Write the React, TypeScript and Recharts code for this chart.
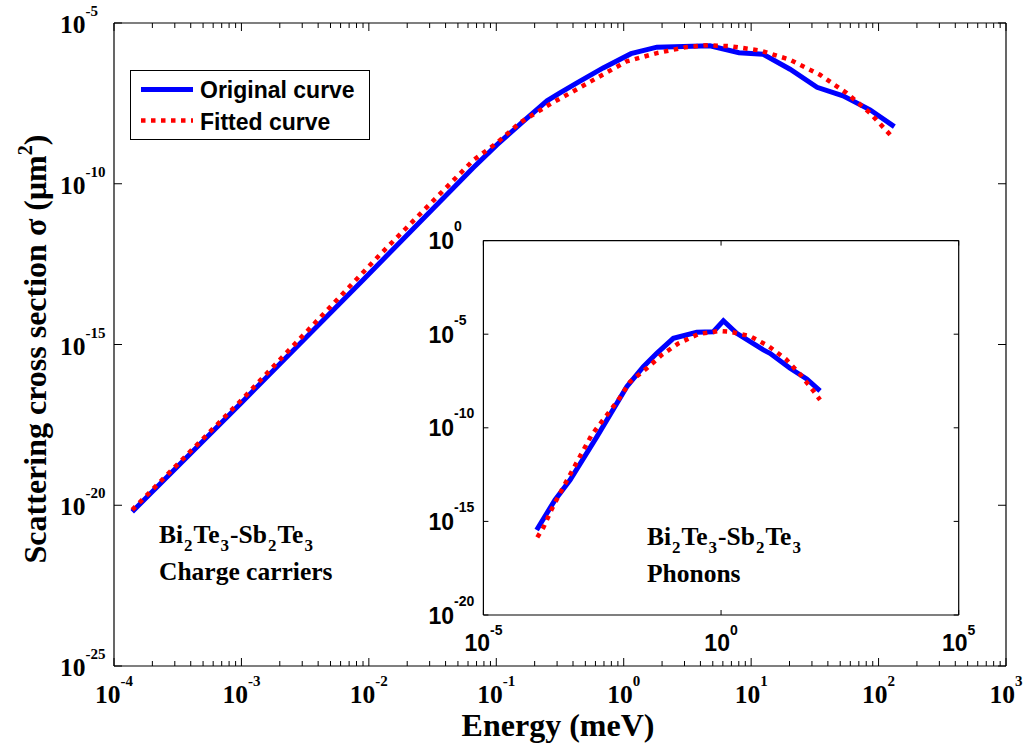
import React from 'react'
import { LineChart, Line, XAxis, YAxis } from 'recharts'

// main plot: charge carriers (energy in meV, sigma in um^2)
const carrierEnergyOrig = [1.39e-4, 1.0e-3, 9.0e-3, 6.56e-2, 0.101, 0.162, 0.25, 0.316, 0.43, 0.69, 1.14, 1.82, 4.75, 8.03, 12.4, 20.2, 32.9, 52.6, 85.7, 133]
const carrierSigmaOrig = [6.3e-21, 1.55e-17, 1.02e-13, 3.1e-10, 1.62e-9, 8.5e-9, 3.8e-8, 6.7e-8, 1.38e-7, 4.0e-7, 1.11e-6, 1.77e-6, 1.96e-6, 1.19e-6, 1.07e-6, 3.65e-7, 1.0e-7, 5.46e-8, 2.0e-8, 6.0e-9]
const carrierEnergyFit = [1.39e-4, 1.0e-3, 1.22e-2, 6.6e-2, 0.101, 0.153, 0.272, 0.379, 0.614, 1.055, 1.82, 3.12, 4.61, 6.82, 11.7, 20.2, 34.7, 56.2, 85.7, 127]
const carrierSigmaFit = [7.2e-21, 1.86e-17, 6.2e-13, 5.4e-10, 1.86e-9, 7.9e-9, 3.2e-8, 6.6e-8, 1.94e-7, 6.4e-7, 1.16e-6, 1.79e-6, 2.04e-6, 1.9e-6, 1.4e-6, 7.2e-7, 2.45e-7, 6.6e-8, 1.58e-8, 2.95e-9]

// inset: phonons
const phononEnergyOrig = [1.32e-4, 3.21e-4, 6.65e-4, 2.43e-3, 1.04e-2, 2.32e-2, 4.44e-2, 9.9e-2, 0.308, 0.689, 1.12, 2.14, 7.76, 10.7, 28.3, 63.5, 121]
const phononSigmaOrig = [3.5e-16, 1.41e-14, 1.62e-13, 3.3e-11, 1.58e-8, 1.82e-7, 9.5e-7, 6.0e-6, 1.26e-5, 1.35e-5, 5.2e-5, 1.12e-5, 1.45e-6, 9.5e-7, 1.51e-7, 4.1e-8, 9.5e-9]
const phononEnergyFit = [1.36e-4, 1.82e-4, 2.74e-4, 4.45e-4, 7.2e-4, 1.17e-3, 1.9e-3, 3.62e-3, 6.9e-3, 1.22e-2, 2.74e-2, 5.65e-2, 0.126, 0.333, 0.92, 1.55, 4.07, 9.9, 23.3, 47.5, 87.5, 121]
const phononSigmaFit = [1.41e-16, 4.6e-16, 4.5e-15, 4.8e-14, 4.5e-13, 4.4e-12, 4.2e-11, 3.6e-10, 3.1e-9, 2.9e-8, 1.51e-7, 7.8e-7, 3.2e-6, 1.02e-5, 1.48e-5, 1.35e-5, 7.9e-6, 2.34e-6, 4.6e-7, 6.6e-8, 9.5e-9, 3.1e-9]

// ticks
const mainXDecades = [1e-4, 1e-3, 1e-2, 1e-1, 1, 10, 100, 1000]
const minorSteps = [2, 3, 4, 5, 6, 7, 8, 9]
const mainXTicks = mainXDecades
  .concat(mainXDecades.slice(0, -1).flatMap(d => minorSteps.map(m => d * m)))
  .sort((a, b) => a - b)
const mainYTicks = [1e-25, 1e-20, 1e-15, 1e-10, 1e-5]
const insetXTicks = [1e-5, 1, 1e5]
const insetYTicks = [1e-20, 1e-15, 1e-10, 1e-5, 1]

const legendLabels = ['Original curve', 'Fitted curve']

const toRows = (xs: number[], ys: number[]) => xs.map((e, i) => ({ energy: e, sigma: ys[i] }))

const carrierOrig = toRows(carrierEnergyOrig, carrierSigmaOrig)
const carrierFit = toRows(carrierEnergyFit, carrierSigmaFit)
const phononOrig = toRows(phononEnergyOrig, phononSigmaOrig)
const phononFit = toRows(phononEnergyFit, phononSigmaFit)

const serif = '"Liberation Serif", "Times New Roman", serif'
const sans = '"Liberation Sans", Arial, sans-serif'
const BLUE = '#0000ff'
const RED = '#ff0000'
const DOTS = '4.5 5.5'

const isDecade = (v: number) => Math.abs(Math.log10(v) - Math.round(Math.log10(v))) < 1e-6
const expOf = (v: number) => Math.round(Math.log10(v))

// x ticks of the main axes, drawn inward, MATLAB style
const MainXTick = ({ x, y, payload, side }: any) => {
  const v = payload.value
  const major = isDecade(v)
  const len = major ? 8 : 5
  const dir = side === 'bottom' ? -1 : 1
  return (
    <g>
      <line x1={x} y1={y} x2={x} y2={y + dir * len} stroke="#000" strokeWidth={1} />
      {side === 'bottom' && major && (
        <text x={x} y={y + 36.5} textAnchor="middle" fontFamily={serif} fontWeight="bold" fontSize={25.5} fill="#000">
          <tspan>10</tspan>
          <tspan dy={-17} fontSize={15}>{expOf(v)}</tspan>
        </text>
      )}
    </g>
  )
}

const MainYTick = ({ x, y, payload, side }: any) => {
  const v = payload.value
  const dir = side === 'left' ? 1 : -1
  return (
    <g>
      <line x1={x} y1={y} x2={x + dir * 8} y2={y} stroke="#000" strokeWidth={1} />
      {side === 'left' && (
        <text x={x - 54} y={y + 10} textAnchor="start" fontFamily={serif} fontWeight="bold" fontSize={25.5} fill="#000">
          <tspan>10</tspan>
          <tspan dy={-17} fontSize={15}>{expOf(v)}</tspan>
        </text>
      )}
    </g>
  )
}

const InsetXTick = ({ x, y, payload, side }: any) => {
  const v = payload.value
  const dir = side === 'bottom' ? -1 : 1
  return (
    <g>
      <line x1={x} y1={y} x2={x} y2={y + dir * 5} stroke="#000" strokeWidth={1} />
      {side === 'bottom' && (
        <text x={x} y={y + 35.5} textAnchor="middle" fontFamily={sans} fontWeight="bold" fontSize={23} fill="#000">
          <tspan>10</tspan>
          <tspan dy={-16} fontSize={14}>{expOf(v)}</tspan>
        </text>
      )}
    </g>
  )
}

const InsetYTick = ({ x, y, payload, side }: any) => {
  const v = payload.value
  const dir = side === 'left' ? 1 : -1
  return (
    <g>
      <line x1={x} y1={y} x2={x + dir * 5} y2={y} stroke="#000" strokeWidth={1} />
      {side === 'left' && (
        <text x={x - 55} y={y + 8.5} textAnchor="start" fontFamily={sans} fontWeight="bold" fontSize={23} fill="#000">
          <tspan>10</tspan>
          <tspan dy={-18} fontSize={14}>{expOf(v)}</tspan>
        </text>
      )}
    </g>
  )
}

const Sub = ({ c }: { c: string }) => (
  <tspan dx={1} dy={8} fontSize={17}>{c}</tspan>
)

const Formula = ({ x, y }: { x: number; y: number }) => (
  <text x={x} y={y} fontFamily={serif} fontWeight="bold" fontSize={25.5} fill="#000">
    <tspan>Bi</tspan>
    <Sub c="2" />
    <tspan dx={1} dy={-8}>Te</tspan>
    <Sub c="3" />
    <tspan dx={1} dy={-8}>-Sb</tspan>
    <Sub c="2" />
    <tspan dx={1} dy={-8}>Te</tspan>
    <Sub c="3" />
  </text>
)

const axisStroke = { stroke: '#000', strokeWidth: 1.2 }

export default function App() {
  return (
    <div style={{ position: 'absolute', left: 0, top: 0, width: 1026, height: 747, background: '#fff' }}>
      <div style={{ position: 'absolute', left: 0, top: 0 }}>
        <LineChart width={1026} height={747} margin={{ top: 22, right: 19, bottom: 80, left: 0 }}>
          <XAxis
            dataKey="energy" type="number" scale="log" domain={[1e-4, 1e3]} allowDataOverflow
            ticks={mainXTicks} interval={0} height={1} tickSize={0} tickMargin={0}
            tickLine={false} axisLine={axisStroke}
            tick={(p: any) => <MainXTick {...p} side="bottom" />}
          />
          <XAxis
            xAxisId="top" orientation="top" dataKey="energy" type="number" scale="log" domain={[1e-4, 1e3]} allowDataOverflow
            ticks={mainXTicks} interval={0} height={1} tickSize={0} tickMargin={0}
            tickLine={false} axisLine={axisStroke}
            tick={(p: any) => <MainXTick {...p} side="top" />}
          />
          <YAxis
            dataKey="sigma" type="number" scale="log" domain={[1e-25, 1e-5]} allowDataOverflow
            ticks={mainYTicks} interval={0} width={114} tickSize={0} tickMargin={0}
            tickLine={false} axisLine={axisStroke}
            tick={(p: any) => <MainYTick {...p} side="left" />}
          />
          <YAxis
            yAxisId="right" orientation="right" type="number" scale="log" domain={[1e-25, 1e-5]} allowDataOverflow
            ticks={mainYTicks} interval={0} width={1} tickSize={0} tickMargin={0}
            tickLine={false} axisLine={axisStroke}
            tick={(p: any) => <MainYTick {...p} side="right" />}
          />
          <Line data={carrierOrig} dataKey="sigma" type="linear" stroke={BLUE} strokeWidth={5} dot={false} isAnimationActive={false} />
          <Line data={carrierFit} dataKey="sigma" type="linear" stroke={RED} strokeWidth={4.5} strokeDasharray={DOTS} dot={false} isAnimationActive={false} />
        </LineChart>
      </div>

      <div style={{ position: 'absolute', left: 420, top: 215 }}>
        <LineChart width={560} height={450} margin={{ top: 24.6, right: 20.3, bottom: 49, left: 0 }}>
          <XAxis
            dataKey="energy" type="number" scale="log" domain={[1e-5, 1e5]} allowDataOverflow
            ticks={insetXTicks} interval={0} height={1} tickSize={0} tickMargin={0}
            tickLine={false} axisLine={axisStroke}
            tick={(p: any) => <InsetXTick {...p} side="bottom" />}
          />
          <XAxis
            xAxisId="top" orientation="top" dataKey="energy" type="number" scale="log" domain={[1e-5, 1e5]} allowDataOverflow
            ticks={insetXTicks} interval={0} height={1} tickSize={0} tickMargin={0}
            tickLine={false} axisLine={axisStroke}
            tick={(p: any) => <InsetXTick {...p} side="top" />}
          />
          <YAxis
            dataKey="sigma" type="number" scale="log" domain={[1e-20, 1]} allowDataOverflow
            ticks={insetYTicks} interval={0} width={63.4} tickSize={0} tickMargin={0}
            tickLine={false} axisLine={axisStroke}
            tick={(p: any) => <InsetYTick {...p} side="left" />}
          />
          <YAxis
            yAxisId="right" orientation="right" type="number" scale="log" domain={[1e-20, 1]} allowDataOverflow
            ticks={insetYTicks} interval={0} width={1} tickSize={0} tickMargin={0}
            tickLine={false} axisLine={axisStroke}
            tick={(p: any) => <InsetYTick {...p} side="right" />}
          />
          <Line data={phononOrig} dataKey="sigma" type="linear" stroke={BLUE} strokeWidth={5} dot={false} isAnimationActive={false} />
          <Line data={phononFit} dataKey="sigma" type="linear" stroke={RED} strokeWidth={4.5} strokeDasharray={DOTS} dot={false} isAnimationActive={false} />
        </LineChart>
      </div>

      <svg width={1026} height={747} style={{ position: 'absolute', left: 0, top: 0, pointerEvents: 'none' }}>
        {/* legend */}
        <rect x={130.5} y={70.5} width={239} height={69} fill="#fff" stroke="#000" strokeWidth={1} />
        <line x1={141} y1={89.5} x2={193} y2={89.5} stroke={BLUE} strokeWidth={5} />
        <line x1={141} y1={120.5} x2={193} y2={120.5} stroke={RED} strokeWidth={4.5} strokeDasharray={DOTS} />
        <text x={200} y={98} fontFamily={sans} fontWeight="bold" fontSize={23} fill="#000">{legendLabels[0]}</text>
        <text x={200} y={130} fontFamily={sans} fontWeight="bold" fontSize={23} fill="#000">{legendLabels[1]}</text>

        {/* annotations */}
        <Formula x={159} y={543} />
        <text x={159} y={580} fontFamily={serif} fontWeight="bold" fontSize={25.5} fill="#000">Charge carriers</text>
        <Formula x={647} y={545} />
        <text x={647} y={582} fontFamily={serif} fontWeight="bold" fontSize={25.5} fill="#000">Phonons</text>

        {/* axis titles */}
        <text x={558} y={736} textAnchor="middle" fontFamily={serif} fontWeight="bold" fontSize={32} fill="#000">Energy (meV)</text>
        <text transform="translate(46,349) rotate(-90)" textAnchor="middle" fontFamily={serif} fontWeight="bold" fontSize={32} fill="#000">
          <tspan>Scattering cross section σ (μm</tspan>
          <tspan dy={-14} fontSize={20}>2</tspan>
          <tspan dy={14}>)</tspan>
        </text>
      </svg>
    </div>
  )
}
